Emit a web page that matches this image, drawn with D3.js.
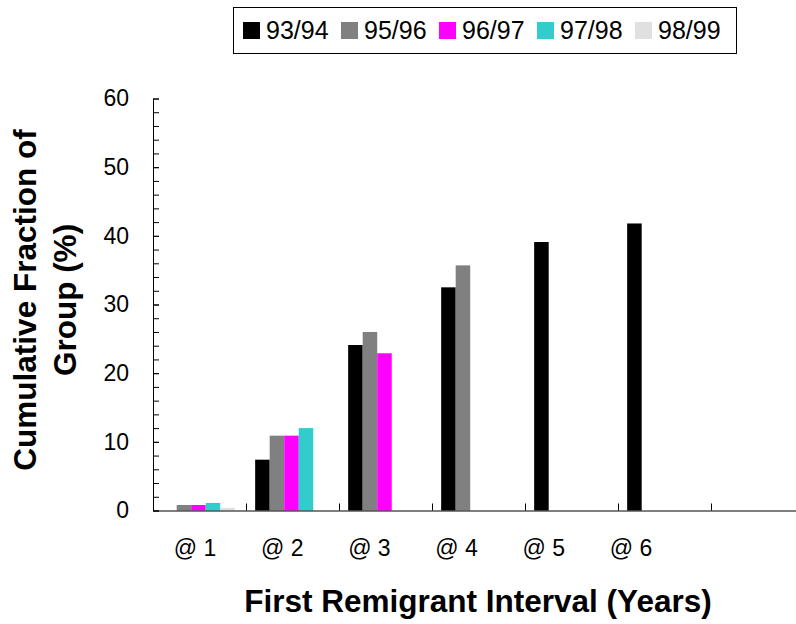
<!DOCTYPE html>
<html>
<head>
<meta charset="utf-8">
<script src="https://cdn.jsdelivr.net/npm/d3@7/dist/d3.min.js"></script>
<style>
  html, body { margin: 0; padding: 0; background: #fff; }
  svg { display: block; font-family: "Liberation Sans", Arial, sans-serif; }
</style>
</head>
<body>
<svg id="chart" width="796" height="624"></svg>
<script>
// ---- data ----
const categories = ["@ 1", "@ 2", "@ 3", "@ 4", "@ 5", "@ 6", ""];
const seriesNames = ["93/94", "95/96", "96/97", "97/98", "98/99"];
const seriesColors = ["#000000", "#808080", "#FF00FF", "#33CCCC", "#E0E0E0"];
const v9394 = [null, 7.4, 24.1, 32.5, 39.1, 41.8, null];
const v9596 = [0.8, 10.9, 26.0, 35.7, null, null, null];
const v9697 = [0.8, 10.9, 22.9, null, null, null, null];
const v9798 = [1.1, 12.0, null, null, null, null, null];
const v9899 = [0.4, null, null, null, null, null, null];
const yMajorTicks = [0, 10, 20, 30, 40, 50, 60];
const yMinorTicks = d3.range(0, 61, 2);

const seriesValues = [v9394, v9596, v9697, v9798, v9899];

const svg = d3.select("#chart");

// ---- scales ----
const plotLeft = 153, plotBottom = 510.5, plotTop = 98.5, catStep = 93;
const y = d3.scaleLinear().domain([0, 60]).range([plotBottom, plotTop]);
const x0 = d3.scaleBand().domain(categories)
  .range([plotLeft, plotLeft + catStep * categories.length])
  .paddingInner(0).paddingOuter(0);
const x1 = d3.scaleBand().domain(seriesNames)
  .range([0, x0.bandwidth()]).paddingInner(0).paddingOuter(0.7).align(0.45);
const xEdge = d3.scaleLinear().domain([0, categories.length])
  .range([plotLeft, plotLeft + catStep * categories.length]);
const labelX = d3.scalePoint().domain(categories.slice(0, 6)).range([195, 631]);

// ---- bars ----
const barData = [];
seriesValues.forEach((vals, si) => {
  vals.forEach((v, ci) => {
    if (v !== null) barData.push({ s: seriesNames[si], c: categories[ci], v: v, color: seriesColors[si] });
  });
});
svg.append("g").selectAll("rect").data(barData).join("rect")
  .attr("x", d => x0(d.c) + x1(d.s))
  .attr("width", x1.bandwidth())
  .attr("y", d => y(d.v))
  .attr("height", d => y(0) - y(d.v))
  .attr("fill", d => d.color);

// ---- y axis ----
const yMinor = svg.append("g").attr("transform", `translate(${plotLeft},0)`)
  .call(d3.axisLeft(y).tickValues(yMinorTicks).tickSize(-6).tickFormat(""));
yMinor.select(".domain").remove();
yMinor.selectAll("line").attr("stroke", "#000");

const yAxis = svg.append("g").attr("transform", `translate(${plotLeft},0)`)
  .call(d3.axisLeft(y).tickValues(yMajorTicks).tickSizeInner(-6).tickSizeOuter(0).tickPadding(24));
yAxis.select(".domain").attr("stroke", "#000");
yAxis.selectAll("text").attr("font-size", 23).attr("fill", "#000")
  .attr("font-family", "Liberation Sans, Arial, sans-serif");

// ---- x axis ----
const xAxis = svg.append("g").attr("transform", `translate(0,${plotBottom})`)
  .call(d3.axisBottom(xEdge).tickValues(d3.range(1, categories.length)).tickSizeInner(-7).tickSizeOuter(0).tickFormat(""));
xAxis.select(".domain").attr("stroke", "#000");
xAxis.selectAll("line").attr("stroke", "#000");

svg.append("g").selectAll("text").data(categories.slice(0, 6)).join("text")
  .attr("x", d => labelX(d))
  .attr("y", 556)
  .attr("text-anchor", "middle")
  .attr("font-size", 23)
  .text(d => d);

// ---- titles ----
svg.append("text")
  .attr("x", 478).attr("y", 612)
  .attr("text-anchor", "middle")
  .attr("font-size", 31.5).attr("font-weight", "bold")
  .text("First Remigrant Interval (Years)");

const yTitle = svg.append("text")
  .attr("transform", "translate(0,300) rotate(-90)")
  .attr("text-anchor", "middle")
  .attr("font-size", 31.5).attr("font-weight", "bold");
yTitle.append("tspan").attr("x", 0).attr("y", 36).text("Cumulative Fraction of");
yTitle.append("tspan").attr("x", 0).attr("y", 76).text("Group (%)");

// ---- legend ----
const legend = svg.append("g");
legend.append("rect")
  .attr("x", 233.5).attr("y", 7.5).attr("width", 503).attr("height", 46)
  .attr("fill", "#fff").attr("stroke", "#000").attr("stroke-width", 1);
const legendX = d3.scalePoint().domain(seriesNames).range([243, 635]);
const items = legend.selectAll("g.item").data(seriesNames).join("g")
  .attr("class", "item")
  .attr("transform", d => `translate(${legendX(d)},0)`);
items.append("rect")
  .attr("x", 0).attr("y", 22).attr("width", 17).attr("height", 17)
  .attr("fill", (d, i) => seriesColors[i]);
items.append("text")
  .attr("x", 23).attr("y", 39)
  .attr("font-size", 25)
  .text(d => d);
</script>
</body>
</html>
